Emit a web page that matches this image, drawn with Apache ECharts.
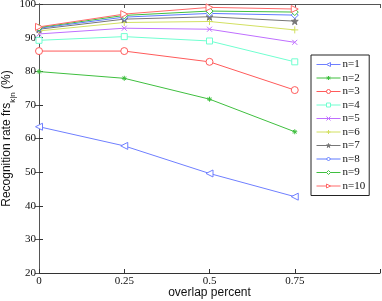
<!DOCTYPE html>
<html>
<head>
<meta charset="utf-8">
<script src="https://cdn.jsdelivr.net/npm/echarts@6/dist/echarts.min.js"></script>
<style>html,body{margin:0;padding:0;background:#fff}#c{width:382px;height:301px}</style>
</head>
<body>
<div id="c"></div>
<script>
var xValues = [0, 0.25, 0.5, 0.75];
var seriesNames = ['n=1','n=2','n=3','n=4','n=5','n=6','n=7','n=8','n=9','n=10'];
var n1 = [63.5, 57.8, 49.6, 42.7];
var n2 = [79.9, 77.9, 71.7, 62.0];
var n3 = [86.0, 86.0, 82.8, 74.4];
var n4 = [89.2, 90.3, 89.0, 82.8];
var n5 = [91.1, 92.8, 92.5, 88.6];
var n6 = [92.0, 94.5, 94.8, 92.3];
var n7 = [92.5, 95.5, 96.2, 94.9];
var n8 = [92.8, 96.1, 97.2, 96.7];
var n9 = [93.0, 96.6, 97.9, 97.6];
var n10 = [93.2, 97.0, 99.0, 98.5];
var yTicks = [20, 30, 40, 50, 60, 70, 80, 90, 100];

var allData = [n1,n2,n3,n4,n5,n6,n7,n8,n9,n10];
var colors = ['#6f7fff','#3fbf3f','#ff5a5a','#70ffd0','#bf6fff','#d2e060','#777777','#5f7aff','#3fbf3f','#ff6a6a'];
var P = {
  lt: 'path://M0,5L10,0L10,10Z',
  rt: 'path://M10,5L0,0L0,10Z',
  ast: 'path://M5,0L5,10M0,5L10,5M1.5,1.5L8.5,8.5M8.5,1.5L1.5,8.5',
  x: 'path://M0,0L10,10M10,0L0,10',
  plus: 'path://M5,0L5,10M0,5L10,5',
  star: 'path://M5,0L6.2,3.6L10,3.6L6.9,5.9L8.1,9.5L5,7.3L1.9,9.5L3.1,5.9L0,3.6L3.8,3.6Z'
};
// [symbol, hollow, size]
var marks = [
  [P.lt, true, 7],
  [P.ast, false, 5],
  ['circle', true, 7],
  ['rect', true, 6],
  [P.x, false, 5],
  [P.plus, false, 7],
  [P.star, false, 7],
  ['diamond', true, 7],
  ['diamond', true, 7],
  [P.rt, true, 7]
];

var series = seriesNames.map(function(name, i){
  var c = colors[i], m = marks[i];
  return {
    name: name,
    type: 'line',
    data: xValues.map(function(x, j){ return [x, allData[i][j]]; }),
    symbol: m[0],
    symbolSize: m[2],
    showSymbol: true,
    lineStyle: {color: c, width: 1},
    itemStyle: {color: m[1] ? '#fff' : c, borderColor: c, borderWidth: 1},
    emphasis: {disabled: true},
    animation: false,
    z: 2 + i
  };
});

var legendData = seriesNames.map(function(name, i){
  var c = colors[i], m = marks[i];
  return {
    name: name,
    itemStyle: {color: m[1] ? '#fff' : c, borderColor: c, borderWidth: 1},
    lineStyle: {color: c, width: 1}
  };
});

var chart = echarts.init(document.getElementById('c'));
var axisCol = '#333';
chart.setOption({
  animation: false,
  grid: {left: 39, right: 2, top: 4, bottom: 28, containLabel: false, outerBoundsMode: 'none'},
  legend: {
    orient: 'vertical',
    left: 311, top: 55,
    data: legendData,
    itemWidth: 24, itemHeight: 5, itemGap: 2.5,
    padding: [4, 4, 4, 5],
    backgroundColor: '#fff',
    borderColor: '#222', borderWidth: 1,
    textStyle: {fontFamily: 'Liberation Serif', fontSize: 11, color: '#111', padding: [0,0,0,-3]},
    selectedMode: false
  },
  xAxis: [{
    type: 'value', min: 0, max: 1, interval: 0.25,
    name: 'overlap percent', nameLocation: 'middle', nameGap: 14, nameMoveOverlap: false,
    nameTextStyle: {fontFamily: 'Liberation Sans', fontSize: 12, color: '#111'},
    axisLine: {lineStyle: {color: axisCol}},
    axisTick: {inside: true, length: 4, lineStyle: {color: axisCol}},
    axisLabel: {fontFamily: 'Liberation Serif', fontSize: 11, color: '#111', margin: 3,
      formatter: function(v){ return v >= 1 ? '' : String(v); }},
    splitLine: {show: false}
  }, {
    type: 'value', min: 0, max: 1, interval: 0.25, position: 'top',
    axisLine: {show: true, lineStyle: {color: '#555'}},
    axisTick: {inside: true, length: 4, lineStyle: {color: '#555'}},
    axisLabel: {show: false}, splitLine: {show: false}
  }],
  yAxis: [{
    type: 'value', min: 20, max: 100, interval: 10,
    name: '{a|Recognition rate frs}{b|k|n}{a| (%)}',
    nameLocation: 'middle', nameGap: 22, nameMoveOverlap: false,
    nameTextStyle: {
      rich: {
        a: {fontFamily: 'Liberation Sans', fontSize: 12, color: '#111', lineHeight: 16, verticalAlign: 'top'},
        b: {fontFamily: 'Liberation Sans', fontSize: 8, color: '#111', lineHeight: 16, verticalAlign: 'bottom'}
      }
    },
    axisLine: {show: true, lineStyle: {color: axisCol}},
    axisTick: {inside: true, length: 4, lineStyle: {color: axisCol}},
    axisLabel: {fontFamily: 'Liberation Serif', fontSize: 11, color: '#111', margin: 3},
    splitLine: {show: false}
  }, {
    type: 'value', min: 20, max: 100, interval: 10, position: 'right',
    axisLine: {show: true, lineStyle: {color: '#555'}},
    axisTick: {inside: true, length: 4, lineStyle: {color: '#555'}},
    axisLabel: {show: false}, splitLine: {show: false}
  }],
  series: series
});
</script>
</body>
</html>
